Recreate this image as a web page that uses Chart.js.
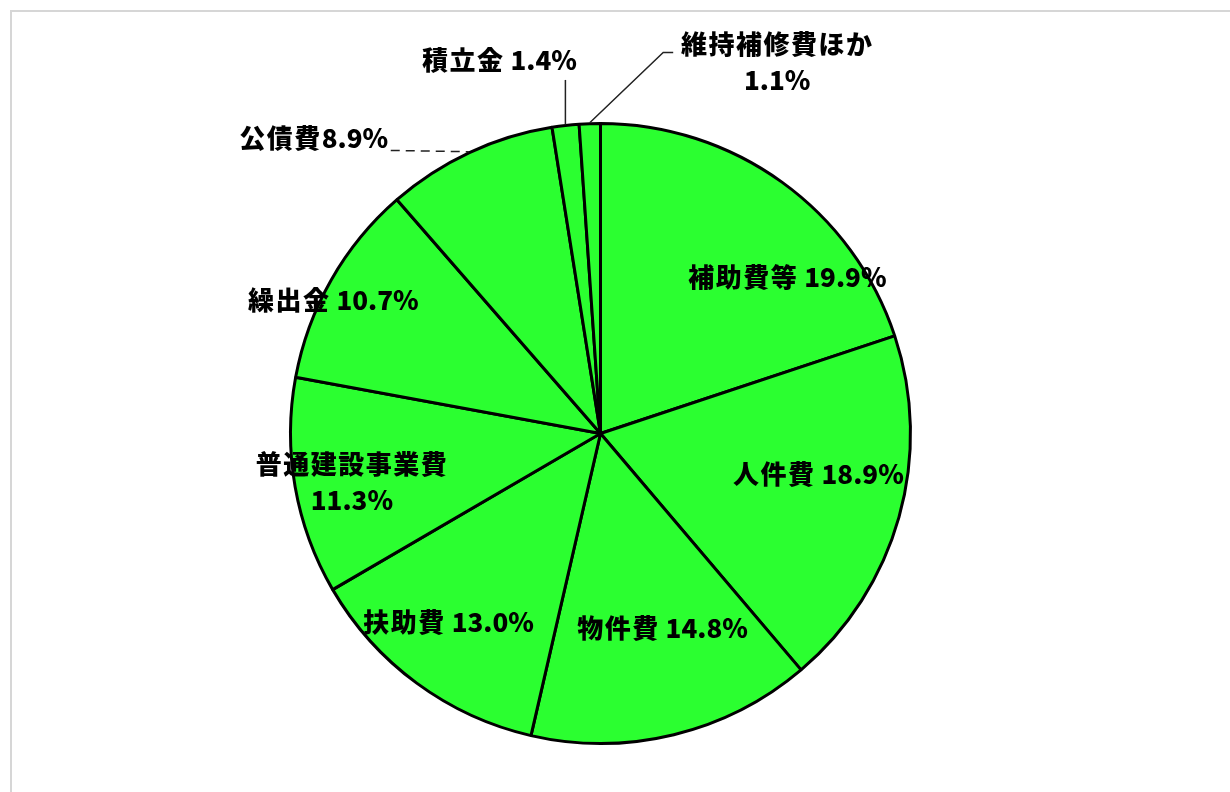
<!DOCTYPE html>
<html>
<head>
<meta charset="utf-8">
<script src="https://cdn.jsdelivr.net/npm/chart.js@4/dist/chart.umd.min.js"></script>
<style>
  html, body { margin: 0; padding: 0; background: #fff; overflow: hidden; }
  #frame {
    position: absolute; left: 10px; top: 10px;
    width: 1300px; height: 900px;
    border: 2px solid #d6d6d6; box-sizing: border-box;
  }
  #wrap { position: absolute; left: 0; top: 0; width: 1230px; height: 792px; }
</style>
</head>
<body>
<div id="frame"></div>
<div id="wrap"><canvas id="myChart" width="1230" height="792"></canvas></div>
<script>
// ----- data (percent of total expenditure)
let categories = ["補助費等", "人件費", "物件費", "扶助費", "普通建設事業費", "繰出金", "公債費", "積立金", "維持補修費ほか"];
let values = [19.9, 18.9, 14.8, 13.0, 11.3, 10.7, 8.9, 1.4, 1.1];

// label placement, in units of the pie radius from the centre
// [dx, dy, two lines?]
let labelPos = [
  [0.603, -0.506, false],
  [0.703, 0.132, false],
  [0.200, 0.629, false],
  [-0.490, 0.610, false],
  [-0.802, 0.10, true],
  [-0.862, -0.429, false],
  [-0.925, -0.952, false],
  [-0.326, -1.205, false],
  [0.570, -1.255, true],
];

function labelText(i) {
  let v = values[i].toFixed(1) + "%";
  if (i === 6) return [categories[i] + v];
  if (labelPos[i][2]) return [categories[i], v];
  return [categories[i] + " " + v];
}

// draw text with wide CJK and tight latin, centred on x
function drawMixed(ctx, text, x, y) {
  let runs = text.match(/[\u3000-\u9fff]+|[^\u3000-\u9fff]+/g);
  let widths = runs.map((t) => {
    ctx.letterSpacing = /[\u3000-\u9fff]/.test(t) ? "1.5px" : "0px";
    return ctx.measureText(t).width;
  });
  let total = widths.reduce((a, b) => a + b, 0);
  let cx = x - total / 2;
  runs.forEach((t, k) => {
    ctx.letterSpacing = /[\u3000-\u9fff]/.test(t) ? "1.5px" : "0px";
    ctx.fillText(t, cx, y);
    cx += widths[k];
  });
}

let labelPlugin = {
  id: "pieLabels",
  afterDatasetsDraw(chart) {
    let ctx = chart.ctx;
    let meta = chart.getDatasetMeta(0);
    let arc0 = meta.data[0];
    let cx = arc0.x, cy = arc0.y, r = arc0.outerRadius;

    ctx.save();
    // leader lines for the outside labels
    ctx.strokeStyle = "#222";
    ctx.lineWidth = 1.5;
    meta.data.forEach((arc, i) => {
      let mid = (arc.startAngle + arc.endAngle) / 2;
      let px = cx + Math.cos(mid) * (r + 1);
      let py = cy + Math.sin(mid) * (r + 1);
      if (i === 6) {
        ctx.setLineDash([9, 6]);
        ctx.beginPath();
        ctx.moveTo(cx + labelPos[i][0] * r + 77, cy + labelPos[i][1] * r + 12);
        ctx.lineTo(px, py);
        ctx.stroke();
        ctx.setLineDash([]);
      } else if (i === 7) {
        ctx.beginPath();
        ctx.moveTo(px, py);
        ctx.lineTo(px, cy + labelPos[i][1] * r + 20);
        ctx.stroke();
      } else if (i === 8) {
        let ex = cx + labelPos[i][0] * r - 114;
        let ey = cy + labelPos[i][1] * r + 8;
        ctx.beginPath();
        ctx.moveTo(px, py);
        ctx.lineTo(ex, ey);
        ctx.lineTo(ex + 10, ey);
        ctx.stroke();
      }
    });

    ctx.fillStyle = "#000";
    ctx.font = "900 26px 'Noto Sans CJK JP'";
    ctx.textAlign = "left";
    ctx.textBaseline = "middle";
    labelPos.forEach((p, i) => {
      let lines = labelText(i);
      let x = cx + p[0] * r;
      let y = cy + p[1] * r;
      lines.forEach((t, k) => {
        drawMixed(ctx, t, x, y + k * 36);
      });
    });
    ctx.restore();
  },
};

let mychart = document.getElementById("myChart").getContext("2d");
let pieChart = new Chart(mychart, {
  type: "pie",
  data: {
    labels: categories,
    datasets: [
      {
        data: values,
        backgroundColor: "#2bff30",
        borderColor: "#000",
        borderWidth: 3,
      },
    ],
  },
  options: {
    responsive: false,
    animation: false,
    layout: { padding: { left: 289, right: 318, top: 122, bottom: 47 } },
    plugins: {
      legend: { display: false },
      tooltip: { enabled: false },
    },
  },
  plugins: [labelPlugin],
});
</script>
</body>
</html>
